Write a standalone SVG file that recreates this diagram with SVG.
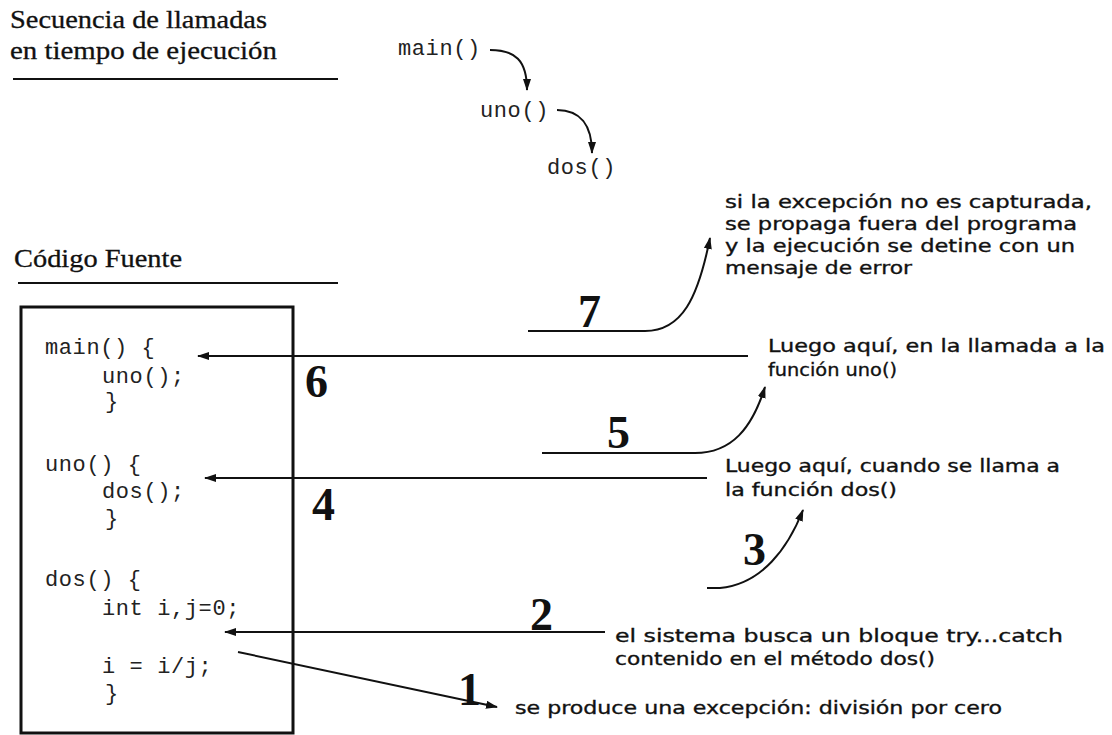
<svg xmlns="http://www.w3.org/2000/svg" width="1112" height="735" viewBox="0 0 1112 735">
<style>
.ser{font-family:"Liberation Serif","Times New Roman",serif;font-size:25px;fill:#111;stroke:#111;stroke-width:0.3}
.mono{font-family:"Liberation Mono","Courier New",monospace;font-size:22px;fill:#222;letter-spacing:0.6px}
.num{font-family:"Liberation Serif","Times New Roman",serif;font-size:46px;font-weight:bold;fill:#111}
.note{font-family:"DejaVu Sans","Liberation Sans",sans-serif;font-size:18px;fill:#111;stroke:#111;stroke-width:0.35}
.ln{stroke:#111;stroke-width:2;fill:none}
.arr{stroke:#111;stroke-width:2;fill:none;marker-end:url(#ah)}
</style>
<defs>
<marker id="ah" viewBox="0 0 12 8" refX="11" refY="4" markerWidth="12" markerHeight="8" markerUnits="userSpaceOnUse" orient="auto">
<path d="M0,0 L12,4 L0,8 Z" fill="#111"/>
</marker>
</defs>
<rect width="1112" height="735" fill="#fff"/>

<g id="titulo-secuencia">
<text class="ser" x="10" y="28" textLength="257" lengthAdjust="spacingAndGlyphs">Secuencia de llamadas</text>
<text class="ser" x="10" y="59" textLength="267" lengthAdjust="spacingAndGlyphs">en tiempo de ejecución</text>
<line class="ln" x1="13" y1="79" x2="338" y2="79"/>
</g>

<g id="seq-main"><text class="mono" x="398" y="55">main()</text></g>
<g id="seq-uno"><text class="mono" x="480" y="117">uno()</text></g>
<g id="seq-dos"><text class="mono" x="547" y="174">dos()</text></g>

<g id="titulo-codigo">
<text class="ser" x="14" y="267" textLength="168" lengthAdjust="spacingAndGlyphs">Código Fuente</text>
<line class="ln" x1="18" y1="283" x2="338" y2="283"/>
</g>

<g id="codigo">
<rect x="21" y="307" width="272" height="426" fill="none" stroke="#111" stroke-width="3"/>
<text class="mono" x="45" y="354">main() {</text>
<text class="mono" x="102" y="383">uno();</text>
<text class="mono" x="105" y="408">}</text>
<text class="mono" x="45" y="471">uno() {</text>
<text class="mono" x="102" y="498">dos();</text>
<text class="mono" x="105" y="525">}</text>
<text class="mono" x="45" y="586">dos() {</text>
<text class="mono" x="102" y="615">int i,j=0;</text>
<text class="mono" x="102" y="673">i = i/j;</text>
<text class="mono" x="105" y="700">}</text>
</g>

<g id="connectors">
<path class="arr" d="M490,50 C515,50 527,60 527,90"/>
<path class="arr" d="M557,110 C580,110 592,125 592,153"/>
<path class="arr" d="M748,356 L198,356"/>
<path class="arr" d="M707,478 L205,478"/>
<path class="arr" d="M605,632 L225,632"/>
<path class="arr" d="M238,652 L497,707"/>
<path class="arr" d="M528,331 H645 C682,331 698,298 710,238"/>
<path class="arr" d="M542,453 H695 C732,453 752,428 765,387"/>
<path class="arr" d="M707,588 H720 C762,584 788,548 803,510"/>
</g>

<g id="pasos">
<text class="num" x="458" y="705">1</text>
<text class="num" x="530" y="630">2</text>
<text class="num" x="743" y="565">3</text>
<text class="num" x="312" y="520">4</text>
<text class="num" x="607" y="448">5</text>
<text class="num" x="305" y="397">6</text>
<text class="num" x="578" y="327">7</text>
</g>

<g id="nota-7">
<text class="note" x="725" y="208" textLength="367" lengthAdjust="spacingAndGlyphs">si la excepción no es capturada,</text>
<text class="note" x="725" y="230" textLength="352" lengthAdjust="spacingAndGlyphs">se propaga fuera del programa</text>
<text class="note" x="725" y="252" textLength="350" lengthAdjust="spacingAndGlyphs">y la ejecución se detine con un</text>
<text class="note" x="725" y="274" textLength="187" lengthAdjust="spacingAndGlyphs">mensaje de error</text>
</g>
<g id="nota-6">
<text class="note" x="768" y="352" textLength="337" lengthAdjust="spacingAndGlyphs">Luego aquí, en la llamada a la</text>
<text class="note" x="768" y="376" textLength="129" lengthAdjust="spacingAndGlyphs">función uno()</text>
</g>
<g id="nota-4">
<text class="note" x="725" y="472" textLength="335" lengthAdjust="spacingAndGlyphs">Luego aquí, cuando se llama a</text>
<text class="note" x="725" y="496" textLength="172" lengthAdjust="spacingAndGlyphs">la función dos()</text>
</g>
<g id="nota-2">
<text class="note" x="615" y="642" textLength="448" lengthAdjust="spacingAndGlyphs">el sistema busca un bloque try...catch</text>
<text class="note" x="615" y="665" textLength="320" lengthAdjust="spacingAndGlyphs">contenido en el método dos()</text>
</g>
<g id="nota-1">
<text class="note" x="515" y="714" textLength="487" lengthAdjust="spacingAndGlyphs">se produce una excepción: división por cero</text>
</g>
</svg>
